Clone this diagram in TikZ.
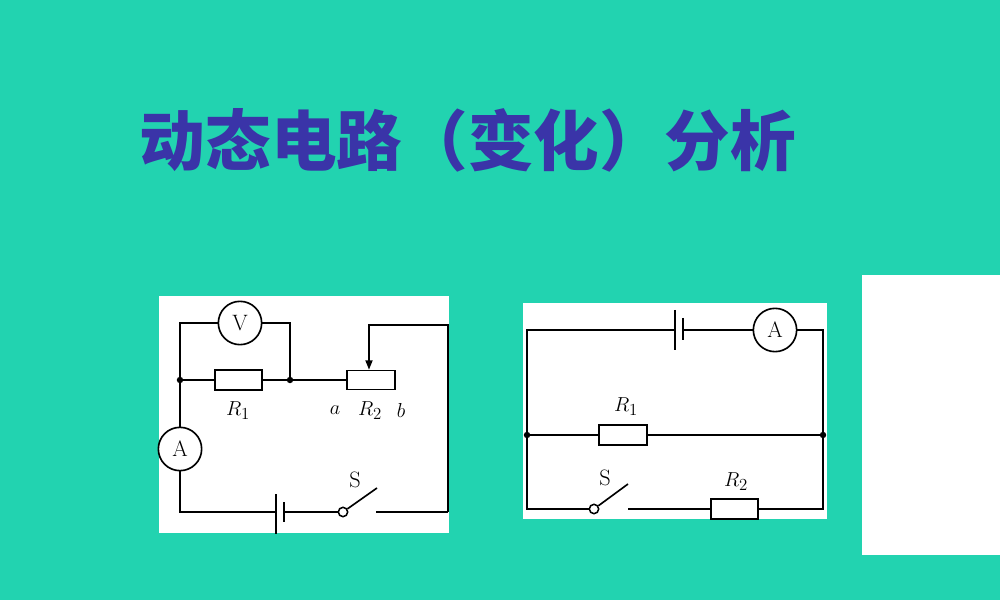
\documentclass[tikz,border=0pt]{standalone}
\usepackage{fontspec}
\newfontfamily\cjk{Noto Sans CJK SC}
\usetikzlibrary{arrows.meta}
\definecolor{bg}{RGB}{34,211,176}
\definecolor{tt}{RGB}{58,52,168}
\tikzset{w/.style={line width=1.4pt,black},
res/.style={draw,line width=1.4pt,fill=white},
meter/.style={circle,draw,line width=1.4pt,fill=white,minimum size=1.3cm,inner sep=0pt,font=\fontsize{19}{19}\selectfont},
lab/.style={font=\fontsize{19}{19}\selectfont},
dot/.style={circle,fill=black,inner sep=0pt,minimum size=5.5pt},
sw/.style={circle,draw,line width=1.3pt,fill=white,inner sep=0pt,minimum size=8pt}}
\begin{document}
\begin{tikzpicture}[x=0.03cm,y=-0.03cm]
\fill[bg] (0,0) rectangle (1000,600);
\useasboundingbox (0,0) rectangle (1000,600);
\fill[white] (862,275) rectangle (1000,555);
\node[tt,font=\cjk\bfseries\fontsize{56}{56}\selectfont] (title) at (468,140) {动态电路（变化）分析};
% left circuit
\fill[white] (159,296) rectangle (449,533);
\coordinate (TL) at (180,323); \coordinate (TR) at (290,323);
\node[dot] (j1) at (180,380) {}; \node[dot] (j2) at (290,380) {};
\node[meter] (V) at (240,323) {V};
\node[meter] (A1) at (180,449) {A};
\draw[w] (j1) -- (TL) -- (V) -- (TR) -- (j2);
\draw[w] (j1) -- (A1);
\draw[w] (j1) -- (j2) -- (347,380);
\node[res,minimum width=1.4cm,minimum height=0.6cm] (R1) at (238.5,380) {};
\node[res,minimum width=1.44cm,minimum height=0.57cm] (R2) at (371,380) {};
\coordinate (s1) at (369,325); \coordinate (c1) at (448,325); \coordinate (c2) at (448,512);
\draw[w,-{Triangle[length=8pt,width=6pt]}] (c2) -- (c1) -- (s1) -- (R2.north-|s1);
\coordinate (bl) at (180,512);
\draw[w] (A1) -- (bl) -- (276,512);
\draw[w] (276,494) -- (276,534);
\draw[w] (284,502) -- (284,522);
\node[sw] (S1) at (343,512) {};
\draw[w] (284,512) -- (S1);
\draw[w] (S1) -- (377,488);
\draw[w] (376,512) -- (c2);
\node[lab] at (238,411) {$R_1$};
\node[lab] at (335,410) {$a$};
\node[lab] at (370,411) {$R_2$};
\node[lab] at (401,410) {$b$};
\node[lab] at (355,480) {S};
% right circuit
\fill[white] (523,303) rectangle (827,519);
\node[dot] (k1) at (527,435) {}; \node[dot] (k2) at (823,435) {};
\node[meter] (A2) at (775,330) {A};
\coordinate (q1) at (527,330); \coordinate (q2) at (823,330);
\coordinate (q3) at (527,509); \coordinate (q4) at (823,509);
\draw[w] (675,330) -- (q1) -- (q3) -- (590,509);
\draw[w] (683,330) -- (A2) -- (q2) -- (q4) -- (628,509);
\draw[w] (675,310) -- (675,350);
\draw[w] (683,318) -- (683,340);
\draw[w] (k1) -- (k2);
\node[res,minimum width=1.44cm,minimum height=0.6cm] (R1b) at (623,435) {};
\node[res,minimum width=1.41cm,minimum height=0.6cm] (R2b) at (734.5,509) {};
\node[sw] (S2) at (594,509) {};
\draw[w] (S2) -- (628,484);
\node[lab] at (626,407) {$R_1$};
\node[lab] at (736,482) {$R_2$};
\node[lab] at (605,478) {S};
\end{tikzpicture}
\end{document}
